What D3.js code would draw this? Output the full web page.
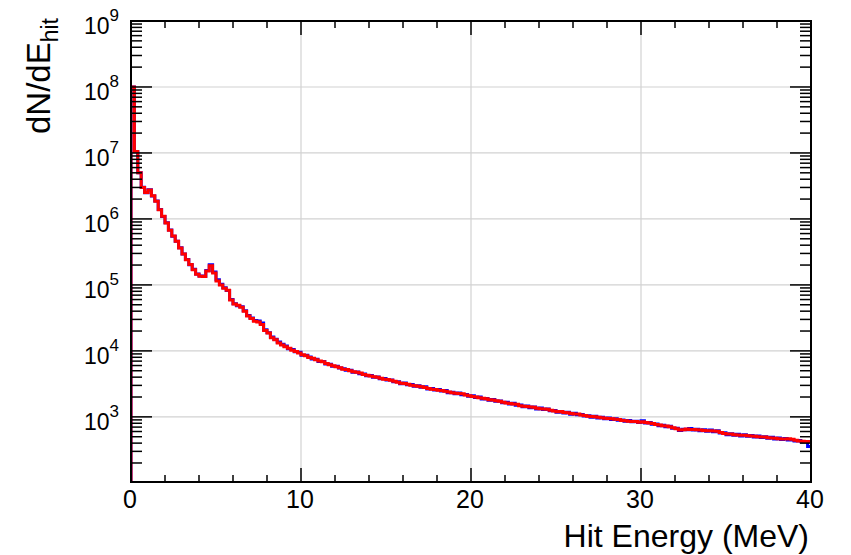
<!DOCTYPE html>
<html>
<head>
<meta charset="utf-8">
<script src="https://cdn.jsdelivr.net/npm/d3@7/dist/d3.min.js"></script>
<style>
  html, body { margin: 0; padding: 0; background: #fff; }
  svg { display: block; font-family: "Liberation Sans", Arial, Helvetica, sans-serif; }
</style>
</head>
<body>
<svg id="chart" width="851" height="555"></svg>
<script>
// ---- data ----
const xRange = [0, 40];
const nBins = 200;
const yRange = [103, 1e9];
const xTickValues = [0, 10, 20, 30, 40];
const yDecades = [3, 4, 5, 6, 7, 8, 9];
const xTitle = "Hit Energy (MeV)";
const yTitleMain = "dN/dE";
const yTitleSub = "hit";

const redCounts = [
 100000000, 10500000, 5000000, 2990000, 2510000, 2750000, 2240000, 1860000, 1380000, 1100000,
 871000, 676000, 550000, 457000, 363000, 295000, 240000, 204000, 170000, 145000,
 135000, 134000, 162000, 195000, 151000, 115000, 100000, 89000, 83000, 59000,
 51300, 49000, 45700, 39800, 33900, 30900, 28200, 27500, 25100, 20400,
 18600, 15800, 14800, 13200, 12300, 11600, 11000, 10200, 9770, 9330,
 8710, 8410, 7940, 7750, 7330, 7000, 6850, 6460, 6170, 5960,
 5750, 5560, 5250, 5230, 5010, 4840, 4730, 4620, 4370, 4270,
 4170, 4070, 3990, 3850, 3720, 3670, 3600, 3470, 3350, 3240,
 3200, 3130, 3020, 2950, 2920, 2850, 2790, 2690, 2630, 2600,
 2540, 2510, 2450, 2390, 2320, 2290, 2260, 2240, 2140, 2090,
 2040, 2000, 1950, 1910, 1880, 1820, 1800, 1760, 1720, 1660,
 1620, 1600, 1570, 1550, 1480, 1450, 1430, 1410, 1395, 1350,
 1330, 1320, 1300, 1260, 1230, 1200, 1205, 1160, 1150, 1120,
 1110, 1110, 1070, 1050, 1020, 1010, 1000, 985, 966, 955,
 944, 933, 923, 912, 881, 871, 861, 851, 850, 832,
 841, 822, 804, 795, 767, 750, 733, 730, 708, 684,
 661, 631, 638, 653, 646, 646, 638, 631, 624, 617,
 617, 610, 603, 582, 562, 550, 548, 537, 531, 525,
 525, 519, 513, 507, 501, 495, 495, 484, 479, 473,
 468, 462, 462, 465, 457, 442, 432, 427, 422, 422
];

const blueCounts = [
 100000000, 10400000, 5020000, 3010000, 2500000, 2760000, 2230000, 1870000, 1390000, 1090000,
 875000, 680000, 545000, 460000, 366000, 293000, 242000, 203000, 172000, 146000,
 136000, 135000, 166000, 203000, 157000, 120000, 102000, 90500, 82000, 60000,
 52000, 48500, 46500, 40500, 34500, 31500, 28800, 28500, 26500, 21000,
 18900, 16300, 15000, 13600, 12600, 11900, 10800, 10500, 9700, 9500,
 8600, 8600, 8050, 7550, 7450, 6900, 6900, 6350, 6300, 5850,
 5850, 5500, 5350, 5100, 5100, 4750, 4800, 4500, 4450, 4200,
 4250, 4000, 4020, 3780, 3800, 3620, 3620, 3400, 3420, 3180,
 3270, 3080, 3090, 2900, 2950, 2800, 2850, 2650, 2690, 2550,
 2590, 2460, 2500, 2330, 2370, 2250, 2310, 2170, 2190, 2050,
 2090, 1960, 2000, 1870, 1900, 1790, 1840, 1730, 1740, 1630,
 1660, 1570, 1610, 1500, 1510, 1420, 1460, 1380, 1410, 1320,
 1360, 1290, 1320, 1240, 1250, 1180, 1210, 1140, 1170, 1100,
 1130, 1080, 1090, 1030, 1040, 990, 1020, 960, 985, 940,
 962, 915, 940, 885, 900, 855, 880, 840, 860, 820,
 870, 810, 820, 770, 780, 735, 745, 710, 720, 670,
 672, 620, 650, 640, 665, 632, 650, 618, 640, 603,
 630, 596, 615, 570, 575, 538, 555, 525, 545, 515,
 535, 508, 522, 496, 512, 485, 500, 474, 490, 463,
 478, 452, 472, 447, 448, 432, 440, 418, 425, 355
];

// ---- layout ----
const plot = { left: 131, right: 811, top: 21, bottom: 482 };

const svg = d3.select("#chart");
const x = d3.scaleLinear().domain(xRange).range([plot.left, plot.right]);
const y = d3.scaleLog().domain(yRange).range([plot.bottom, plot.top]);

const binW = (xRange[1] - xRange[0]) / nBins;

// gridlines
const grid = svg.append("g").attr("stroke", "#d2d2d2").attr("stroke-width", 1.2);
grid.selectAll("line.gx").data(xTickValues.filter(v => v > xRange[0] && v < xRange[1]))
  .join("line")
  .attr("x1", d => x(d)).attr("x2", d => x(d))
  .attr("y1", plot.top).attr("y2", plot.bottom);
grid.selectAll("line.gy").data(yDecades.filter(d => d < 9).map(d => Math.pow(10, d)))
  .join("line")
  .attr("x1", plot.left).attr("x2", plot.right)
  .attr("y1", d => y(d)).attr("y2", d => y(d));

// clip
svg.append("clipPath").attr("id", "clip")
  .append("rect")
  .attr("x", plot.left).attr("y", plot.top)
  .attr("width", plot.right - plot.left).attr("height", plot.bottom - plot.top);

function stepPoints(counts) {
  const pts = [[xRange[0], yRange[0]]];
  counts.forEach((c, i) => {
    const x0 = xRange[0] + i * binW, x1 = x0 + binW;
    pts.push([x0, c]);
    pts.push([x1, c]);
  });
  return pts;
}
const line = d3.line().x(d => x(d[0])).y(d => y(Math.max(d[1], yRange[0])));

const histG = svg.append("g").attr("clip-path", "url(#clip)");
histG.append("path").attr("d", line(stepPoints(blueCounts)))
  .attr("fill", "none").attr("stroke", "#0000ff").attr("stroke-width", 3)
  .attr("stroke-linejoin", "miter");
histG.append("path").attr("d", line(stepPoints(redCounts)))
  .attr("fill", "none").attr("stroke", "#ff0000").attr("stroke-width", 3)
  .attr("stroke-linejoin", "miter");

// ticks
const tickG = svg.append("g").attr("stroke", "#000").attr("stroke-width", 1.5);
const xMinor = d3.range(xRange[0], xRange[1] + 0.001, 2);
xMinor.forEach(v => {
  const major = Math.abs(v % 10) < 1e-9;
  const len = major ? 14 : 7;
  tickG.append("line").attr("x1", x(v)).attr("x2", x(v)).attr("y1", plot.bottom).attr("y2", plot.bottom - len);
  tickG.append("line").attr("x1", x(v)).attr("x2", x(v)).attr("y1", plot.top).attr("y2", plot.top + len);
});
const yTicksAll = [];
for (let d = 2; d <= 8; d++) {
  for (let m = 1; m <= 9; m++) {
    const v = m * Math.pow(10, d);
    if (v >= yRange[0] && v <= yRange[1]) yTicksAll.push({ v, major: m === 1 });
  }
}
yTicksAll.push({ v: 1e9, major: true });
yTicksAll.forEach(t => {
  const len = t.major ? 21 : 11;
  tickG.append("line").attr("x1", plot.left).attr("x2", plot.left + len).attr("y1", y(t.v)).attr("y2", y(t.v));
  tickG.append("line").attr("x1", plot.right).attr("x2", plot.right - len).attr("y1", y(t.v)).attr("y2", y(t.v));
});

// frame
svg.append("rect")
  .attr("x", plot.left).attr("y", plot.top)
  .attr("width", plot.right - plot.left).attr("height", plot.bottom - plot.top)
  .attr("fill", "none").attr("stroke", "#000").attr("stroke-width", 2);

// x tick labels
svg.append("g").selectAll("text").data(xTickValues).join("text")
  .attr("x", d => x(d) - 1).attr("y", 508)
  .attr("text-anchor", "middle").attr("font-size", 25).attr("fill", "#000")
  .text(d => d3.format("d")(d));

// y tick labels
const yl = svg.append("g");
yDecades.forEach(d => {
  const t = yl.append("text").attr("x", 119).attr("y", y(Math.pow(10, d)) + 13)
    .attr("text-anchor", "end").attr("fill", "#000");
  t.append("tspan").attr("font-size", 23).text("10");
  t.append("tspan").attr("font-size", 17).attr("dy", -13).text(String(d));
});

// axis titles
svg.append("text").attr("x", 809).attr("y", 547).attr("text-anchor", "end")
  .attr("font-size", 32).attr("fill", "#000").text(xTitle);

const yt = svg.append("text").attr("transform", "translate(50,18) rotate(-90)")
  .attr("text-anchor", "end").attr("fill", "#000");
yt.append("tspan").attr("font-size", 33).text(yTitleMain);
yt.append("tspan").attr("font-size", 23).attr("dy", 8).text(yTitleSub);
</script>
</body>
</html>
